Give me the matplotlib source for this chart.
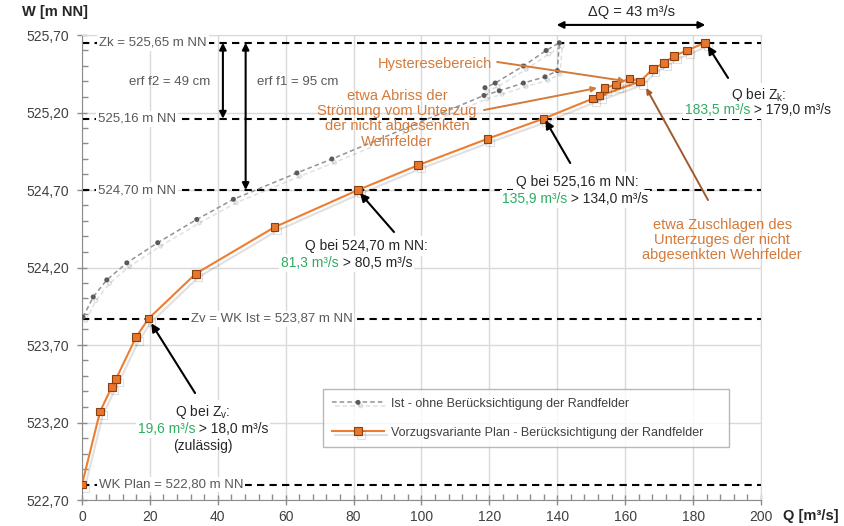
import matplotlib
matplotlib.use("Agg")
import matplotlib.pyplot as plt
import matplotlib.patheffects as pe
from matplotlib.ticker import FixedLocator, MultipleLocator, FuncFormatter
import numpy as np

plt.rcParams['font.family'] = ['Liberation Sans', 'DejaVu Sans']

# ---------------- data ----------------
q_ist = [0.3, 3.3, 7.3, 13.2, 22.3, 33.8, 44.6, 63.3, 73.6, 118.4, 122.9, 130.0,
         136.4, 140.0, 140.6, 136.7, 130.0, 121.7, 118.7]
w_ist = [523.88, 524.01, 524.12, 524.23, 524.36, 524.51, 524.64, 524.81, 524.90,
         525.31, 525.34, 525.39, 525.43, 525.47, 525.65, 525.60, 525.50, 525.39, 525.36]

q_plan = [0, 5.3, 8.8, 10.0, 15.9, 19.6, 33.5, 56.7, 81.3, 99.0, 119.4, 135.9,
          150.5, 152.4, 153.9, 157.3, 161.3, 164.4, 168.1, 171.5, 174.4, 178.2, 183.5]
w_plan = [522.80, 523.27, 523.43, 523.48, 523.75, 523.87, 524.16, 524.46, 524.70,
          524.86, 525.03, 525.16, 525.29, 525.31, 525.36, 525.38, 525.42, 525.40,
          525.48, 525.52, 525.565, 525.60, 525.65]
q_plan_hyst = [150.5, 164.4]
w_plan_hyst = [525.29, 525.40]

ref_levels = [525.65, 525.16, 524.70, 523.87, 522.80]
ref_labels = ["Zk = 525,65 m NN", "525,16 m NN", "524,70 m NN",
              "Zv = WK Ist = 523,87 m NN", "WK Plan = 522,80 m NN"]
ref_label_x = [5.0, 4.6, 4.6, 32.0, 4.9]

ytick_vals = [522.70, 523.20, 523.70, 524.20, 524.70, 525.20, 525.70]
xtick_vals = [0, 20, 40, 60, 80, 100, 120, 140, 160, 180, 200]

label_ist = "Ist - ohne Berücksichtigung der Randfelder"
label_plan = "Vorzugsvariante Plan - Berücksichtigung der Randfelder"

# ---------------- style ----------------
ORANGE = '#ED7D31'
ORANGE_TXT = '#D47A3A'
BROWN = '#9E5B2E'
GREEN = '#2EAD62'
GRAYTXT = '#595959'
TXT = '#262626'

fig = plt.figure(figsize=(8.45, 5.26), dpi=100)
ax = fig.add_axes([82/845, 26/526, 679/845, 465/526])
ax.set_xlim(0, 200)
ax.set_ylim(522.70, 525.70)

ax.xaxis.set_major_locator(FixedLocator(xtick_vals))
ax.xaxis.set_minor_locator(MultipleLocator(4))
ax.yaxis.set_major_locator(FixedLocator(ytick_vals))
ax.yaxis.set_minor_locator(FixedLocator(np.arange(522.70, 525.705, 0.1)))
ax.yaxis.set_major_formatter(FuncFormatter(lambda v, p: f"{v:.2f}".replace('.', ',')))
ax.xaxis.set_major_formatter(FuncFormatter(lambda v, p: f"{v:.0f}"))
ax.tick_params(which='major', direction='inout', length=7, width=1, color='#8C8C8C',
               labelsize=10, labelcolor='#404040', pad=4)
ax.tick_params(which='minor', direction='in', length=4, width=1, color='#8C8C8C')
ax.tick_params(axis='y', which='major', pad=6)

ax.grid(True, which='major', color='#D9D9D9', lw=1)
ax.set_axisbelow(True)
for s in ['left', 'bottom']:
    ax.spines[s].set_color('#8C8C8C')
for s in ['top', 'right']:
    ax.spines[s].set_color('#D9D9D9')

# reference dashed lines
for lvl in ref_levels:
    ax.axhline(lvl, color='black', lw=1.5, dashes=(3.5, 2.5), zorder=2)

for lbl, lx, lvl in zip(ref_labels, ref_label_x, ref_levels):
    ax.text(lx, lvl, lbl, ha='left', va='center', fontsize=9.5, color=GRAYTXT,
            bbox=dict(boxstyle='square,pad=0.15', fc='white', ec='none'), zorder=3)

shadow = [pe.SimpleLineShadow(offset=(2, -2.5), shadow_color='black', alpha=0.12), pe.Normal()]

ax.plot(q_ist, w_ist, color='#939393', lw=1.1, dashes=(3, 2), marker='o', ms=2.6,
        mfc='#5A5A5A', mec='#5A5A5A', zorder=4, label=label_ist, path_effects=shadow)
ax.plot(q_plan_hyst, w_plan_hyst, color=ORANGE, lw=1.5, zorder=5, path_effects=shadow)
ax.plot(q_plan, w_plan, color=ORANGE, lw=1.5, marker='s', ms=5.5, mfc='#E8772E',
        mec='#8A3F10', mew=0.8, zorder=6, label=label_plan, path_effects=shadow)

def arrow(xy, xytext, color='black', style='-|>', lw=1.5, ms=12):
    ax.annotate('', xy=xy, xytext=xytext, annotation_clip=False,
                arrowprops=dict(arrowstyle=style, color=color, lw=lw,
                                mutation_scale=ms, shrinkA=0, shrinkB=0), zorder=7)

# vertical freeboard arrows
arrow((41.5, 525.16), (41.5, 525.65), style='<|-|>', ms=10)
arrow((48.2, 524.70), (48.2, 525.65), style='<|-|>', ms=10)
ax.text(25.9, 525.40, "erf f2 = 49 cm", ha='center', va='center', fontsize=9.5, color=GRAYTXT)
ax.text(51.6, 525.40, "erf f1 = 95 cm", ha='left', va='center', fontsize=9.5, color=GRAYTXT)

# Delta Q arrow
arrow((183.6, 525.765), (139.8, 525.765), style='<|-|>', ms=10)
ax.text(162.0, 525.848, "ΔQ = 43 m³/s", ha='center', va='center', fontsize=10.5, color=TXT)

# orange annotations
ax.text(104.0, 525.513, "Hysteresebereich", ha='center', va='center', fontsize=10.5,
        color=ORANGE_TXT, zorder=8)
arrow((160.0, 525.403), (122.3, 525.526), color=ORANGE_TXT, lw=1.4, ms=8)
ax.text(92.8, 525.16, "etwa Abriss der\nStrömung vom Unterzug\nder nicht abgesenkten\nWehrfelder",
        ha='center', va='center', fontsize=10.5, color=ORANGE_TXT, linespacing=1.12, zorder=8)
arrow((151.7, 525.358), (118.4, 525.216), color=ORANGE_TXT, lw=1.4, ms=8)
ax.text(188.6, 524.377, "etwa Zuschlagen des\nUnterzuges der nicht\nabgesenkten Wehrfelder",
        ha='center', va='center', fontsize=10.5, color=ORANGE_TXT, linespacing=1.12, zorder=8)
arrow((166.2, 525.358), (184.4, 524.635), color=BROWN, lw=1.4, ms=8)

# black annotation groups
BOX1 = dict(boxstyle='square,pad=0.22', fc='white', ec='none')
BOX2 = dict(boxstyle='square,pad=0.14', fc='white', ec='none')

def qgroup(xc, y1, y2, line1, green, rest, split, y3=None, line3=None):
    ax.text(xc, y1, line1, ha='center', va='center', fontsize=10, color=TXT,
            bbox=BOX1, zorder=8)
    ax.text(split, y2, rest, ha='left', va='center', fontsize=10, color=TXT,
            bbox=BOX2, zorder=8.5)
    ax.text(split, y2, green, ha='right', va='center', fontsize=10, color=GREEN,
            bbox=BOX2, zorder=9)
    if line3:
        ax.text(xc, y3, line3, ha='center', va='center', fontsize=10, color=TXT, zorder=8)

qgroup(145.8, 524.752, 524.642, "Q bei 525,16 m NN:", "135,9 m³/s", " > 134,0 m³/s", 142.8)
arrow((136.5, 525.15), (143.8, 524.874))
qgroup(83.7, 524.339, 524.229, "Q bei 524,70 m NN:", "81,3 m³/s", " > 80,5 m³/s", 75.6)
arrow((81.9, 524.68), (91.9, 524.429))
qgroup(35.7, 523.268, 523.158, "Q bei Z$_\\mathregular{v}$:", "19,6 m³/s", " > 18,0 m³/s", 33.3,
       y3=523.048, line3="(zulässig)")
arrow((20.4, 523.84), (33.3, 523.39))
qgroup(199.2, 525.313, 525.216, "Q bei Z$_\\mathregular{k}$:", "183,5 m³/s", " > 179,0 m³/s", 196.8)
arrow((184.3, 525.63), (190.3, 525.423))

# legend
leg = ax.legend(loc='upper left', bbox_to_anchor=(0.355, 0.2387, 0.598, 0.0),
                mode='expand', borderaxespad=0, fontsize=9, frameon=True, fancybox=False,
                edgecolor='#A6A6A6', labelspacing=1.35, handlelength=4.2, borderpad=0.7,
                handletextpad=0.5)
leg.get_frame().set_linewidth(1.0)
for t in leg.get_texts():
    t.set_color('#404040')

# axis titles
fig.text(22/845, 1 - 12/526, "W [m NN]", ha='left', va='center', fontsize=10.5,
         fontweight='bold', color=TXT)
fig.text(783/845, 1 - 516/526, "Q [m³/s]", ha='left', va='center', fontsize=10.5,
         fontweight='bold', color=TXT)

fig.savefig("out.png", dpi=100, facecolor='white')
